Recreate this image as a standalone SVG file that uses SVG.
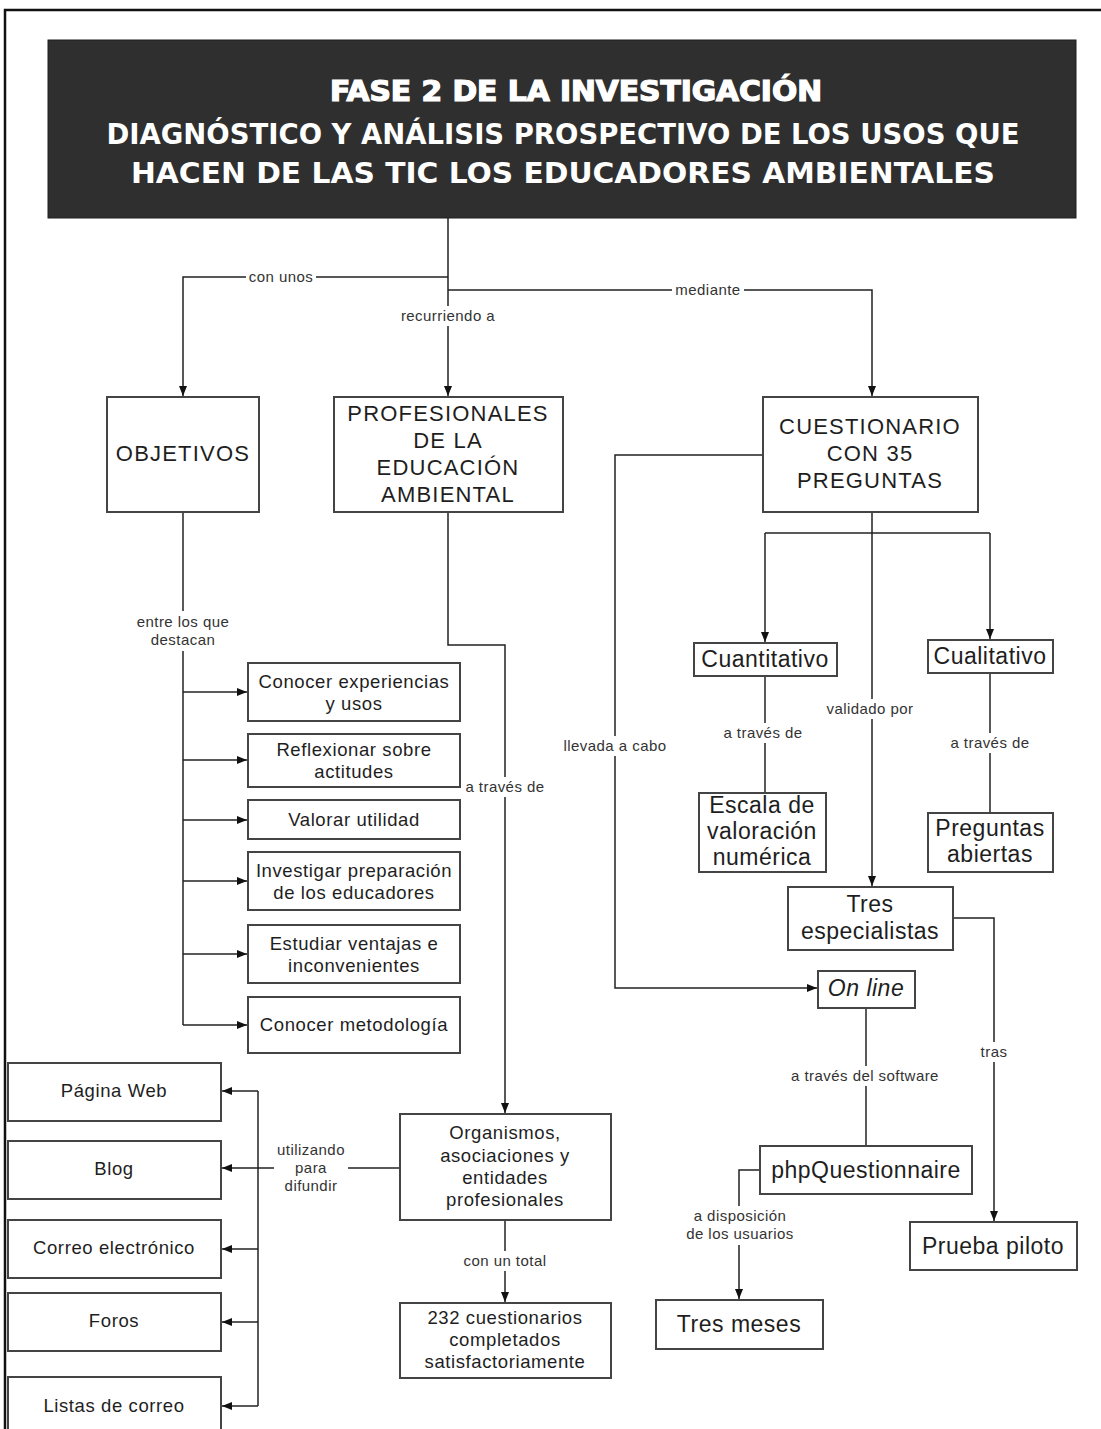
<svg xmlns="http://www.w3.org/2000/svg" width="1101" height="1429" viewBox="0 0 1101 1429">
<defs>
<style>
.box{fill:#fff;stroke:#444;stroke-width:2}
.ln{fill:none;stroke:#222;stroke-width:1.5}
.bg{fill:#fff}
.t{font-family:"Liberation Sans",Arial,sans-serif;fill:#1e1e1e;text-anchor:middle}
.big{font-size:22px;letter-spacing:1.2px}
.med{font-size:23px;letter-spacing:0.5px}
.sm{font-size:18.5px;letter-spacing:0.6px}
.lbl{font-family:"Liberation Sans",Arial,sans-serif;font-size:15px;letter-spacing:0.45px;fill:#333;text-anchor:middle}
.hd{font-family:"DejaVu Sans Condensed","DejaVu Sans","Liberation Sans",sans-serif;font-stretch:condensed;font-weight:bold;fill:#fff;text-anchor:middle}
</style>
<marker id="arr" viewBox="0 0 10 10" refX="10" refY="5" markerWidth="10" markerHeight="10" markerUnits="userSpaceOnUse" orient="auto">
<path d="M0,1 L10,5 L0,9 z" fill="#111"/>
</marker>
</defs>
<rect width="1101" height="1429" fill="#fff"/>
<path d="M5,1429 V10 H1101" fill="none" stroke="#111" stroke-width="2.5"/>

<g id="header">
<rect x="48" y="40" width="1028" height="178" fill="#2f2f2f" stroke="#1e1e1e" stroke-width="1"/>
<text class="hd" x="576" y="101" font-size="28" textLength="492" lengthAdjust="spacingAndGlyphs" stroke="#fff" stroke-width="1.2">FASE 2 DE LA INVESTIGACIÓN</text>
<text class="hd" x="563" y="144" font-size="28" textLength="913" lengthAdjust="spacingAndGlyphs">DIAGNÓSTICO Y ANÁLISIS PROSPECTIVO DE LOS USOS QUE</text>
<text class="hd" x="563" y="183" font-size="28" textLength="864" lengthAdjust="spacingAndGlyphs">HACEN DE LAS TIC LOS EDUCADORES AMBIENTALES</text>
</g>

<g id="connectors">
<path class="ln" d="M448,218 V396" marker-end="url(#arr)"/>
<path class="ln" d="M448,277 H183 V396" marker-end="url(#arr)"/>
<path class="ln" d="M448,290 H872 V396" marker-end="url(#arr)"/>
<path class="ln" d="M183,512 V1025"/>
<path class="ln" d="M183,692 H247" marker-end="url(#arr)"/>
<path class="ln" d="M183,760 H247" marker-end="url(#arr)"/>
<path class="ln" d="M183,820 H247" marker-end="url(#arr)"/>
<path class="ln" d="M183,881 H247" marker-end="url(#arr)"/>
<path class="ln" d="M183,954 H247" marker-end="url(#arr)"/>
<path class="ln" d="M183,1025 H247" marker-end="url(#arr)"/>
<path class="ln" d="M448,512 V645 H505 V1113" marker-end="url(#arr)"/>
<path class="ln" d="M505,1220 V1302" marker-end="url(#arr)"/>
<path class="ln" d="M400,1168 H222" marker-end="url(#arr)"/>
<path class="ln" d="M258,1091 V1406"/>
<path class="ln" d="M258,1091 H222" marker-end="url(#arr)"/>
<path class="ln" d="M258,1249 H222" marker-end="url(#arr)"/>
<path class="ln" d="M258,1322 H222" marker-end="url(#arr)"/>
<path class="ln" d="M258,1406 H222" marker-end="url(#arr)"/>
<path class="ln" d="M763,455 H615 V988 H817" marker-end="url(#arr)"/>
<path class="ln" d="M872,512 V886" marker-end="url(#arr)"/>
<path class="ln" d="M765,533 H990"/>
<path class="ln" d="M765,533 V642" marker-end="url(#arr)"/>
<path class="ln" d="M990,533 V639" marker-end="url(#arr)"/>
<path class="ln" d="M765,676 V793"/>
<path class="ln" d="M990,673 V813"/>
<path class="ln" d="M953,918 H994 V1221" marker-end="url(#arr)"/>
<path class="ln" d="M866,1008 V1146"/>
<path class="ln" d="M760,1170 H739 V1299" marker-end="url(#arr)"/>

<rect class="bg" x="399" y="306" width="98" height="20"/>
<rect class="bg" x="246" y="268" width="70" height="19"/>
<rect class="bg" x="672" y="281" width="72" height="19"/>
<rect class="bg" x="135" y="611" width="96" height="40"/>
<rect class="bg" x="463" y="777" width="84" height="20"/>
<rect class="bg" x="462" y="1251" width="86" height="20"/>
<rect class="bg" x="274" y="1140" width="74" height="57"/>
<rect class="bg" x="562" y="736" width="106" height="20"/>
<rect class="bg" x="824" y="699" width="92" height="20"/>
<rect class="bg" x="717" y="723" width="92" height="20"/>
<rect class="bg" x="944" y="733" width="92" height="20"/>
<rect class="bg" x="977" y="1042" width="34" height="20"/>
<rect class="bg" x="789" y="1066" width="152" height="20"/>
<rect class="bg" x="684" y="1206" width="112" height="39"/>

<text class="lbl" x="448" y="321">recurriendo a</text>
<text class="lbl" x="281" y="282">con unos</text>
<text class="lbl" x="708" y="295">mediante</text>
<text class="lbl" x="183" y="627">entre los que</text>
<text class="lbl" x="183" y="645">destacan</text>
<text class="lbl" x="505" y="792">a través de</text>
<text class="lbl" x="505" y="1266">con un total</text>
<text class="lbl" x="311" y="1155">utilizando</text>
<text class="lbl" x="311" y="1173">para</text>
<text class="lbl" x="311" y="1191">difundir</text>
<text class="lbl" x="615" y="751">llevada a cabo</text>
<text class="lbl" x="870" y="714">validado por</text>
<text class="lbl" x="763" y="738">a través de</text>
<text class="lbl" x="990" y="748">a través de</text>
<text class="lbl" x="994" y="1057">tras</text>
<text class="lbl" x="865" y="1081">a través del software</text>
<text class="lbl" x="740" y="1221">a disposición</text>
<text class="lbl" x="740" y="1239">de los usuarios</text>
</g>

<g id="objetivos"><rect class="box" x="107" y="397" width="152" height="115"/>
<text class="t big" x="183" y="461">OBJETIVOS</text></g>

<g id="profesionales"><rect class="box" x="334" y="397" width="229" height="115"/>
<text class="t big" x="448" y="421">PROFESIONALES</text>
<text class="t big" x="448" y="448">DE LA</text>
<text class="t big" x="448" y="475">EDUCACIÓN</text>
<text class="t big" x="448" y="502">AMBIENTAL</text></g>

<g id="cuestionario"><rect class="box" x="763" y="397" width="215" height="115"/>
<text class="t big" x="870" y="434">CUESTIONARIO</text>
<text class="t big" x="870" y="461">CON 35</text>
<text class="t big" x="870" y="488">PREGUNTAS</text></g>

<g id="obj1"><rect class="box" x="248" y="663" width="212" height="58"/>
<text class="t sm" x="354" y="688">Conocer experiencias</text>
<text class="t sm" x="354" y="710">y usos</text></g>
<g id="obj2"><rect class="box" x="248" y="734" width="212" height="53"/>
<text class="t sm" x="354" y="756">Reflexionar sobre</text>
<text class="t sm" x="354" y="778">actitudes</text></g>
<g id="obj3"><rect class="box" x="248" y="800" width="212" height="39"/>
<text class="t sm" x="354" y="826">Valorar utilidad</text></g>
<g id="obj4"><rect class="box" x="248" y="852" width="212" height="58"/>
<text class="t sm" x="354" y="877">Investigar preparación</text>
<text class="t sm" x="354" y="899">de los educadores</text></g>
<g id="obj5"><rect class="box" x="248" y="925" width="212" height="58"/>
<text class="t sm" x="354" y="950">Estudiar ventajas e</text>
<text class="t sm" x="354" y="972">inconvenientes</text></g>
<g id="obj6"><rect class="box" x="248" y="997" width="212" height="56"/>
<text class="t sm" x="354" y="1031">Conocer metodología</text></g>

<g id="organismos"><rect class="box" x="400" y="1114" width="211" height="106"/>
<text class="t sm" x="505" y="1139">Organismos,</text>
<text class="t sm" x="505" y="1162">asociaciones y</text>
<text class="t sm" x="505" y="1184">entidades</text>
<text class="t sm" x="505" y="1206">profesionales</text></g>

<g id="total"><rect class="box" x="400" y="1303" width="211" height="75"/>
<text class="t sm" x="505" y="1324">232 cuestionarios</text>
<text class="t sm" x="505" y="1346">completados</text>
<text class="t sm" x="505" y="1368">satisfactoriamente</text></g>

<g id="web"><rect class="box" x="8" y="1063" width="213" height="58"/>
<text class="t sm" x="114" y="1097">Página Web</text></g>
<g id="blog"><rect class="box" x="8" y="1141" width="213" height="58"/>
<text class="t sm" x="114" y="1175">Blog</text></g>
<g id="correo"><rect class="box" x="8" y="1220" width="213" height="58"/>
<text class="t sm" x="114" y="1254">Correo electrónico</text></g>
<g id="foros"><rect class="box" x="8" y="1293" width="213" height="58"/>
<text class="t sm" x="114" y="1327">Foros</text></g>
<g id="listas"><rect class="box" x="8" y="1377" width="213" height="70"/>
<text class="t sm" x="114" y="1412">Listas de correo</text></g>

<g id="cuantitativo"><rect class="box" x="694" y="643" width="143" height="33"/>
<text class="t med" x="765" y="667">Cuantitativo</text></g>
<g id="cualitativo"><rect class="box" x="928" y="640" width="125" height="33"/>
<text class="t med" x="990" y="664">Cualitativo</text></g>
<g id="escala"><rect class="box" x="699" y="793" width="127" height="79"/>
<text class="t med" x="762" y="813">Escala de</text>
<text class="t med" x="762" y="839">valoración</text>
<text class="t med" x="762" y="865">numérica</text></g>
<g id="preguntas"><rect class="box" x="928" y="813" width="125" height="59"/>
<text class="t med" x="990" y="836">Preguntas</text>
<text class="t med" x="990" y="862">abiertas</text></g>
<g id="especialistas"><rect class="box" x="788" y="887" width="165" height="63"/>
<text class="t med" x="870" y="912">Tres</text>
<text class="t med" x="870" y="939">especialistas</text></g>
<g id="online"><rect class="box" x="818" y="971" width="97" height="37"/>
<text class="t med" x="866" y="996" font-style="italic">On line</text></g>
<g id="php"><rect class="box" x="760" y="1146" width="212" height="48"/>
<text class="t med" x="866" y="1178">phpQuestionnaire</text></g>
<g id="piloto"><rect class="box" x="910" y="1222" width="167" height="48"/>
<text class="t med" x="993" y="1254">Prueba piloto</text></g>
<g id="meses"><rect class="box" x="656" y="1300" width="167" height="49"/>
<text class="t med" x="739" y="1332">Tres meses</text></g>
</svg>
